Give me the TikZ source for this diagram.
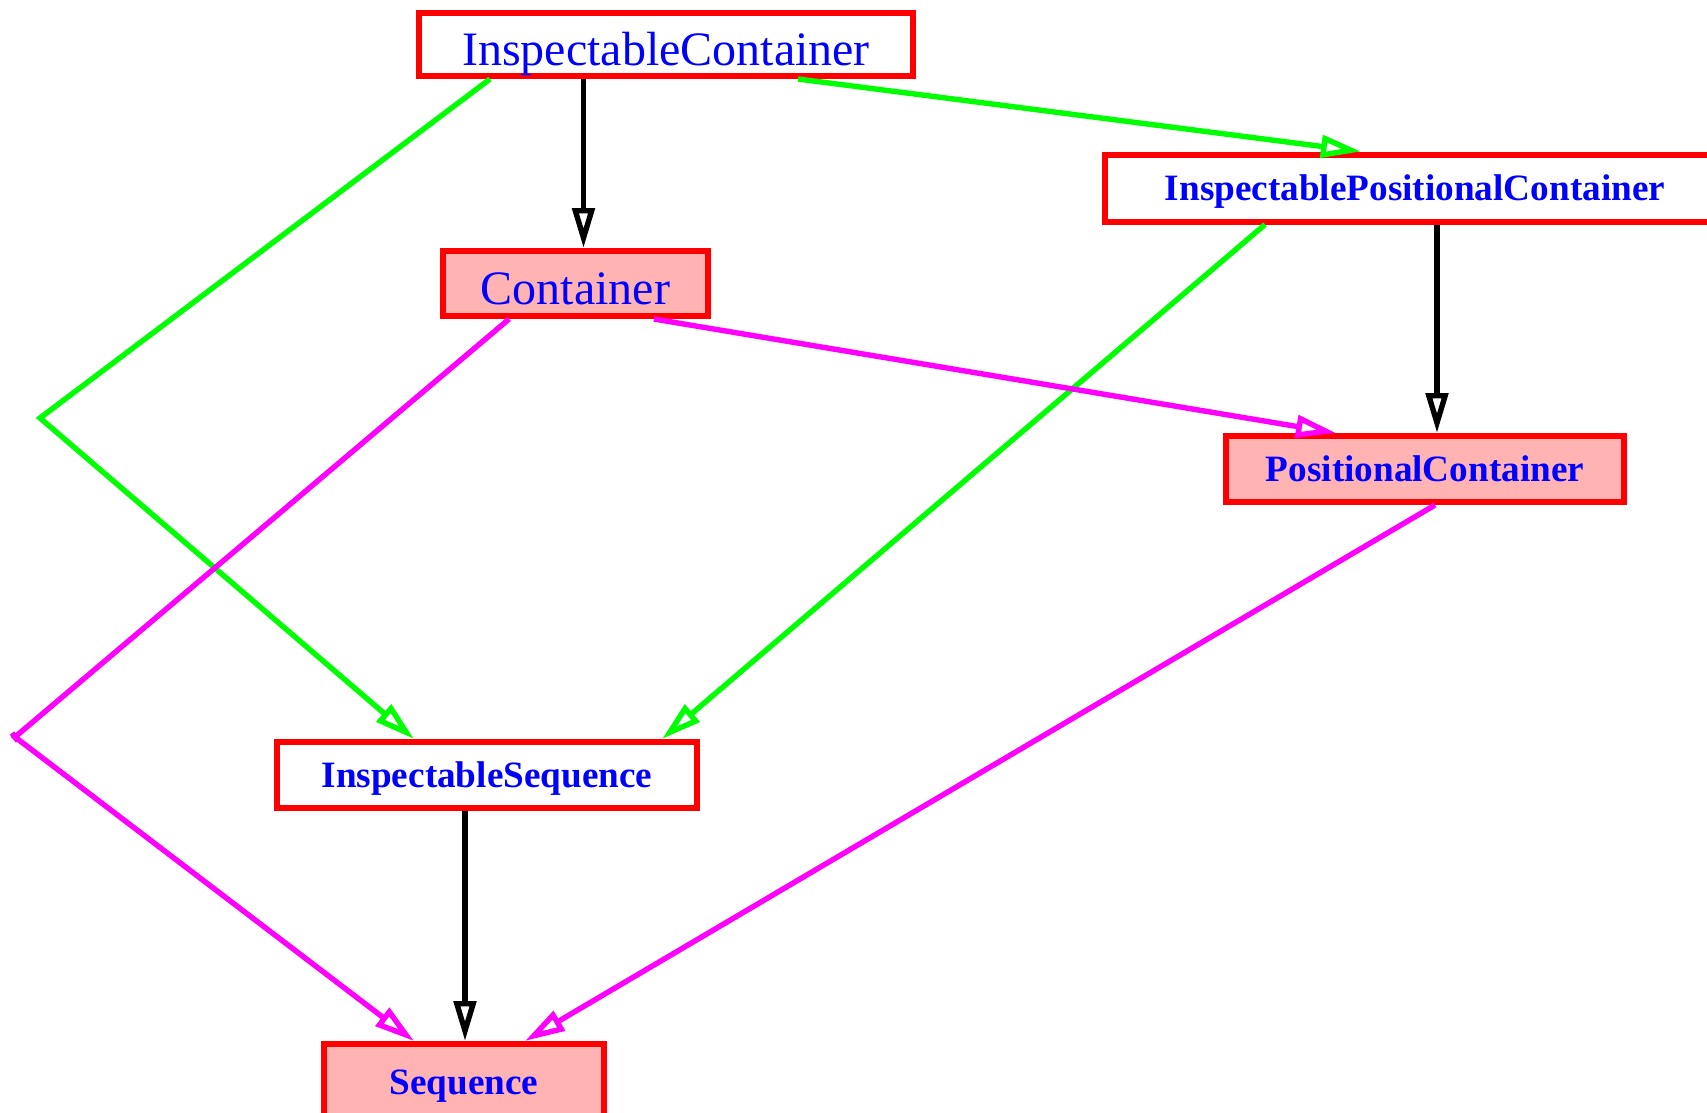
\documentclass[tikz,border=0pt]{standalone}
\usepackage{fontspec}
\setmainfont{Liberation Serif}
\usetikzlibrary{arrows.meta}
\definecolor{boxpink}{RGB}{255,179,179}
\definecolor{linkgreen}{RGB}{0,255,0}
\definecolor{linkmagenta}{RGB}{255,0,255}
\definecolor{textblue}{RGB}{0,0,255}
\begin{document}
\begin{tikzpicture}[x=0.25pt,y=-0.25pt,
		cls/.style={draw=red,line width=1.5pt,text=textblue,inner sep=0pt},
		abstr/.style={cls,fill=white},
		concr/.style={cls,fill=boxpink},
		bigtext/.style={font=\fontsize{12}{14}\selectfont,text height=10.3pt,text depth=0pt},
		smalltext/.style={font=\fontsize{9.3}{11}\selectfont\bfseries,text height=6.2pt,text depth=0pt},
		inh/.style={line width=1.35pt,-{Triangle[open,length=10pt,width=5.5pt]}}]
	\useasboundingbox (0,0) rectangle (1707,1113);
	% classes
	\node[abstr,bigtext,minimum width=123.5pt,minimum height=15.75pt] (ic) at (666,44.5) {InspectableContainer};
	\node[abstr,smalltext,minimum width=155pt,minimum height=16.75pt] (ipc) at (1415,188) {InspectablePositionalContainer};
	\node[concr,bigtext,minimum width=66.25pt,minimum height=16.25pt] (cont) at (575.5,283.5) {Container};
	\node[concr,smalltext,minimum width=99.5pt,minimum height=16.5pt] (pc) at (1425,469) {PositionalContainer};
	\node[abstr,smalltext,minimum width=105pt,minimum height=16.5pt] (is) at (487,775) {InspectableSequence};
	\node[concr,smalltext,minimum width=70pt,minimum height=19pt] (seq) at (464,1082) {Sequence};
	\coordinate (bendA) at (40,418);
	\coordinate (bendB) at (15,737);
	% black edges
	\draw[inh] ([xshift=2pt]cont.north |- ic.south) -- ([xshift=2pt]cont.north);
	\draw[inh] ([xshift=5.5pt]ipc.south) -- ([xshift=5.5pt]ipc.south |- pc.north);
	\draw[inh] ([xshift=-5.5pt]is.south) -- ([xshift=-5.5pt]is.south |- seq.north);
	% green edges
	\draw[inh,linkgreen] ([xshift=33pt]ic.south) -- ([xshift=-13.5pt]ipc.north);
	\draw[inh,linkgreen] ([xshift=-44pt]ic.south) -- (bendA) -- ([xshift=-18.25pt]is.north);
	\draw[inh,linkgreen] ([xshift=-37.5pt]ipc.south) -- ([xshift=43.75pt]is.north);
	% magenta edges
	\draw[inh,linkmagenta] ([xshift=19.6pt]cont.south) -- ([xshift=-22.25pt]pc.north);
	\draw[inh,linkmagenta] ([xshift=-16.6pt]cont.south) -- (bendB) -- ([xshift=-12.5pt]seq.north);
	\draw[line width=1.35pt,linkmagenta] ([shift={(-3,-4)}]bendB) -- ([shift={(3,4)}]bendB);
	\draw[inh,linkmagenta] ([xshift=2.5pt]pc.south) -- ([xshift=15.25pt]seq.north);
\end{tikzpicture}
\end{document}
